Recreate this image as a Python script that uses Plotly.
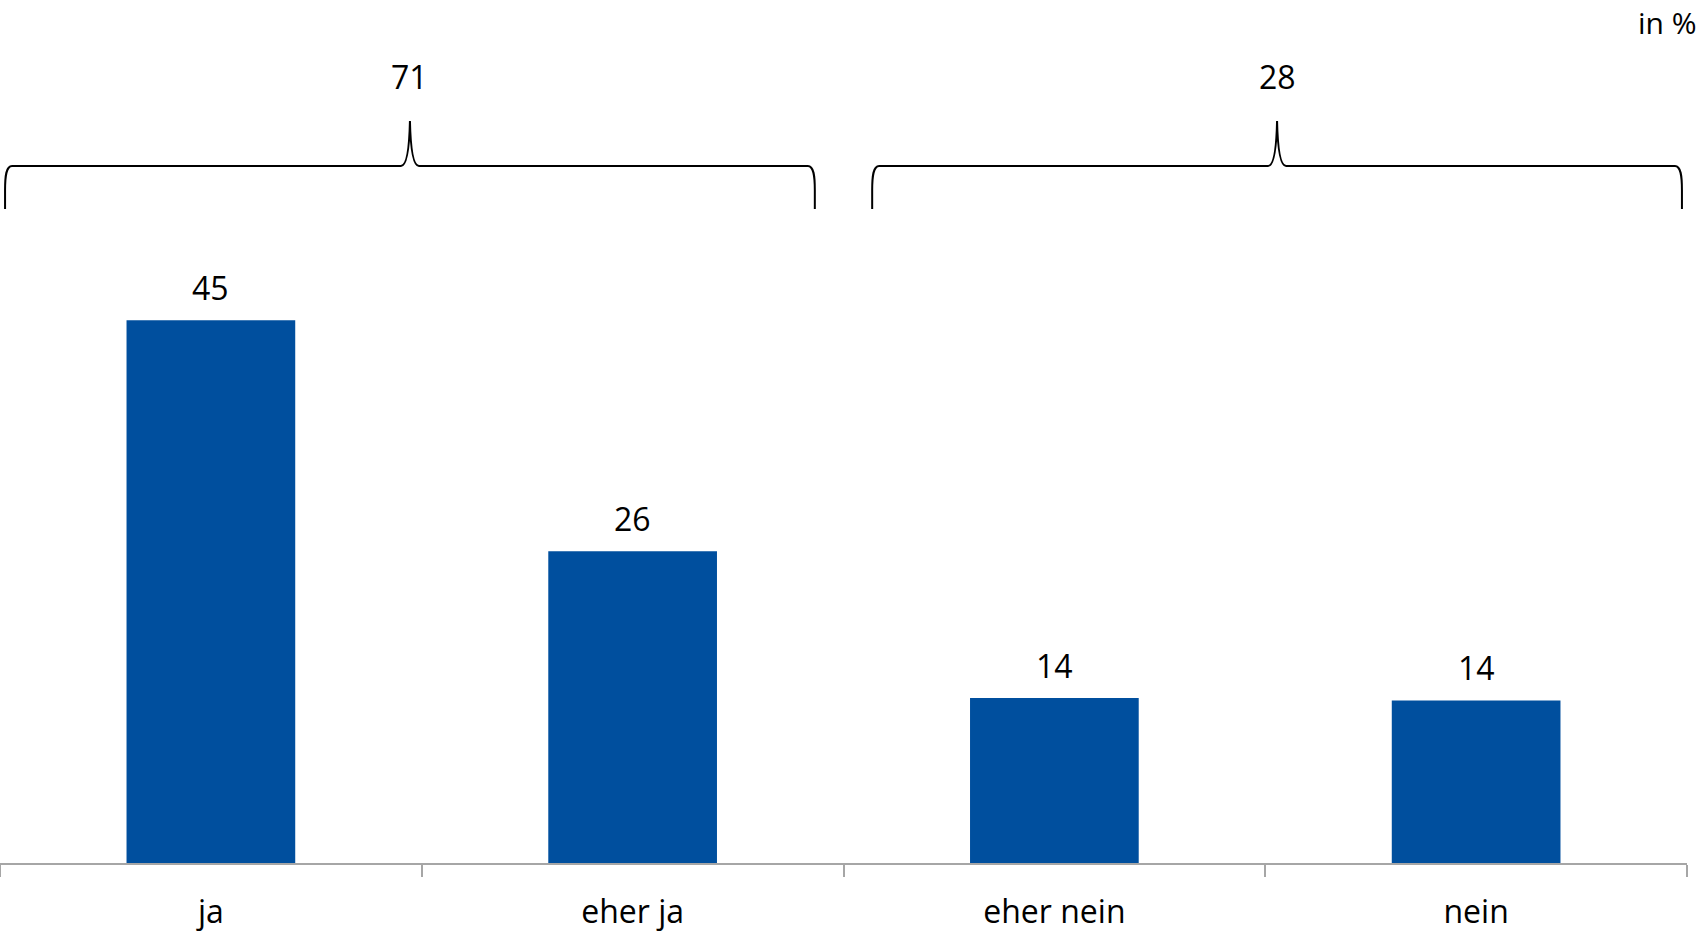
import plotly.graph_objects as go

categories = ["ja", "eher ja", "eher nein", "nein"]
values = [45.1, 25.9, 13.7, 13.5]
value_labels = ["45", "26", "14", "14"]
group_members = [[0, 1], [2, 3]]
group_labels = ["71", "28"]
unit_label = "in %"

BAR_COLOR = "#004F9E"
FONT = "Open Sans"
W, H = 1703, 932
ML, MR, MT, MB = 0, 16, 0, 69
PW, PH = W - ML - MR, H - MT - MB
Y_MAX = 71.7

fig = go.Figure()
fig.add_trace(go.Bar(
    x=categories, y=values, marker_color=BAR_COLOR, marker_line_width=0,
    hoverinfo="skip",
))

# value labels above bars
for c, v, t in zip(categories, values, value_labels):
    fig.add_annotation(x=c, y=v, xref="x", yref="y", text=t, showarrow=False,
                       yanchor="middle", yshift=33,
                       font=dict(family=FONT, size=32, color="black"))


def px_x(idx, dpx=0.0):
    return (idx + 0.5) / len(categories) + dpx / PW


def px_y(py):
    return (PH - py) / PH


def brace_path(left, right, yb, yh, ys):
    mid = (left + right) / 2
    pts = []
    pts.append(f"M {px_x(left)},{px_y(yb)}")
    pts.append(f"L {px_x(left)},{px_y(yh + 24)}")
    pts.append(f"C {px_x(left)},{px_y(yh + 10)} {px_x(left, 1)},{px_y(yh)} {px_x(left, 7)},{px_y(yh)}")
    pts.append(f"L {px_x(mid, -9)},{px_y(yh)}")
    pts.append(f"Q {px_x(mid, -1)},{px_y(yh)} {px_x(mid)},{px_y(ys)}")
    pts.append(f"Q {px_x(mid, 1)},{px_y(yh)} {px_x(mid, 9)},{px_y(yh)}")
    pts.append(f"L {px_x(right, -7)},{px_y(yh)}")
    pts.append(f"C {px_x(right, -1)},{px_y(yh)} {px_x(right)},{px_y(yh + 10)} {px_x(right)},{px_y(yh + 24)}")
    pts.append(f"L {px_x(right)},{px_y(yb)}")
    return " ".join(pts)


outer_inset, inner_inset = 0.012, 0.068
for gi, (members, lab) in enumerate(zip(group_members, group_labels)):
    left = members[0] - 0.5 + (outer_inset if gi == 0 else inner_inset)
    right = members[-1] + 0.5 - (inner_inset if gi == 0 else outer_inset)
    fig.add_shape(type="path", path=brace_path(left, right, 209, 166, 121),
                  xref="paper", yref="paper", line=dict(color="black", width=2))
    fig.add_annotation(x=px_x((left + right) / 2), y=px_y(77), xref="paper", yref="paper",
                       text=lab, showarrow=False, yanchor="middle", xanchor="center",
                       font=dict(family=FONT, size=32, color="black"))

fig.add_annotation(x=1699 / PW, y=px_y(0), xref="paper", yref="paper", text=unit_label,
                   showarrow=False, xanchor="right", yanchor="top",
                   font=dict(family=FONT, size=30, color="black"))

fig.update_layout(
    width=W, height=H,
    margin=dict(l=ML, r=MR, t=MT, b=MB, pad=0),
    paper_bgcolor="white", plot_bgcolor="white",
    bargap=0.6, showlegend=False,
    font=dict(family=FONT, size=32, color="black"),
    xaxis=dict(type="category", showline=True, linecolor="#A6A6A6", linewidth=1.5,
               ticks="outside", tickson="boundaries", ticklen=12, tickcolor="#A6A6A6",
               tickwidth=1.5, showgrid=False, zeroline=False, ticklabelstandoff=20,
               tickfont=dict(family=FONT, size=32, color="black")),
    yaxis=dict(range=[0, Y_MAX], visible=False, showgrid=False, zeroline=False),
)

fig.write_html("out.html", config={"displayModeBar": False},
               post_script="document.body.style.margin='0';document.body.style.overflow='hidden';")
